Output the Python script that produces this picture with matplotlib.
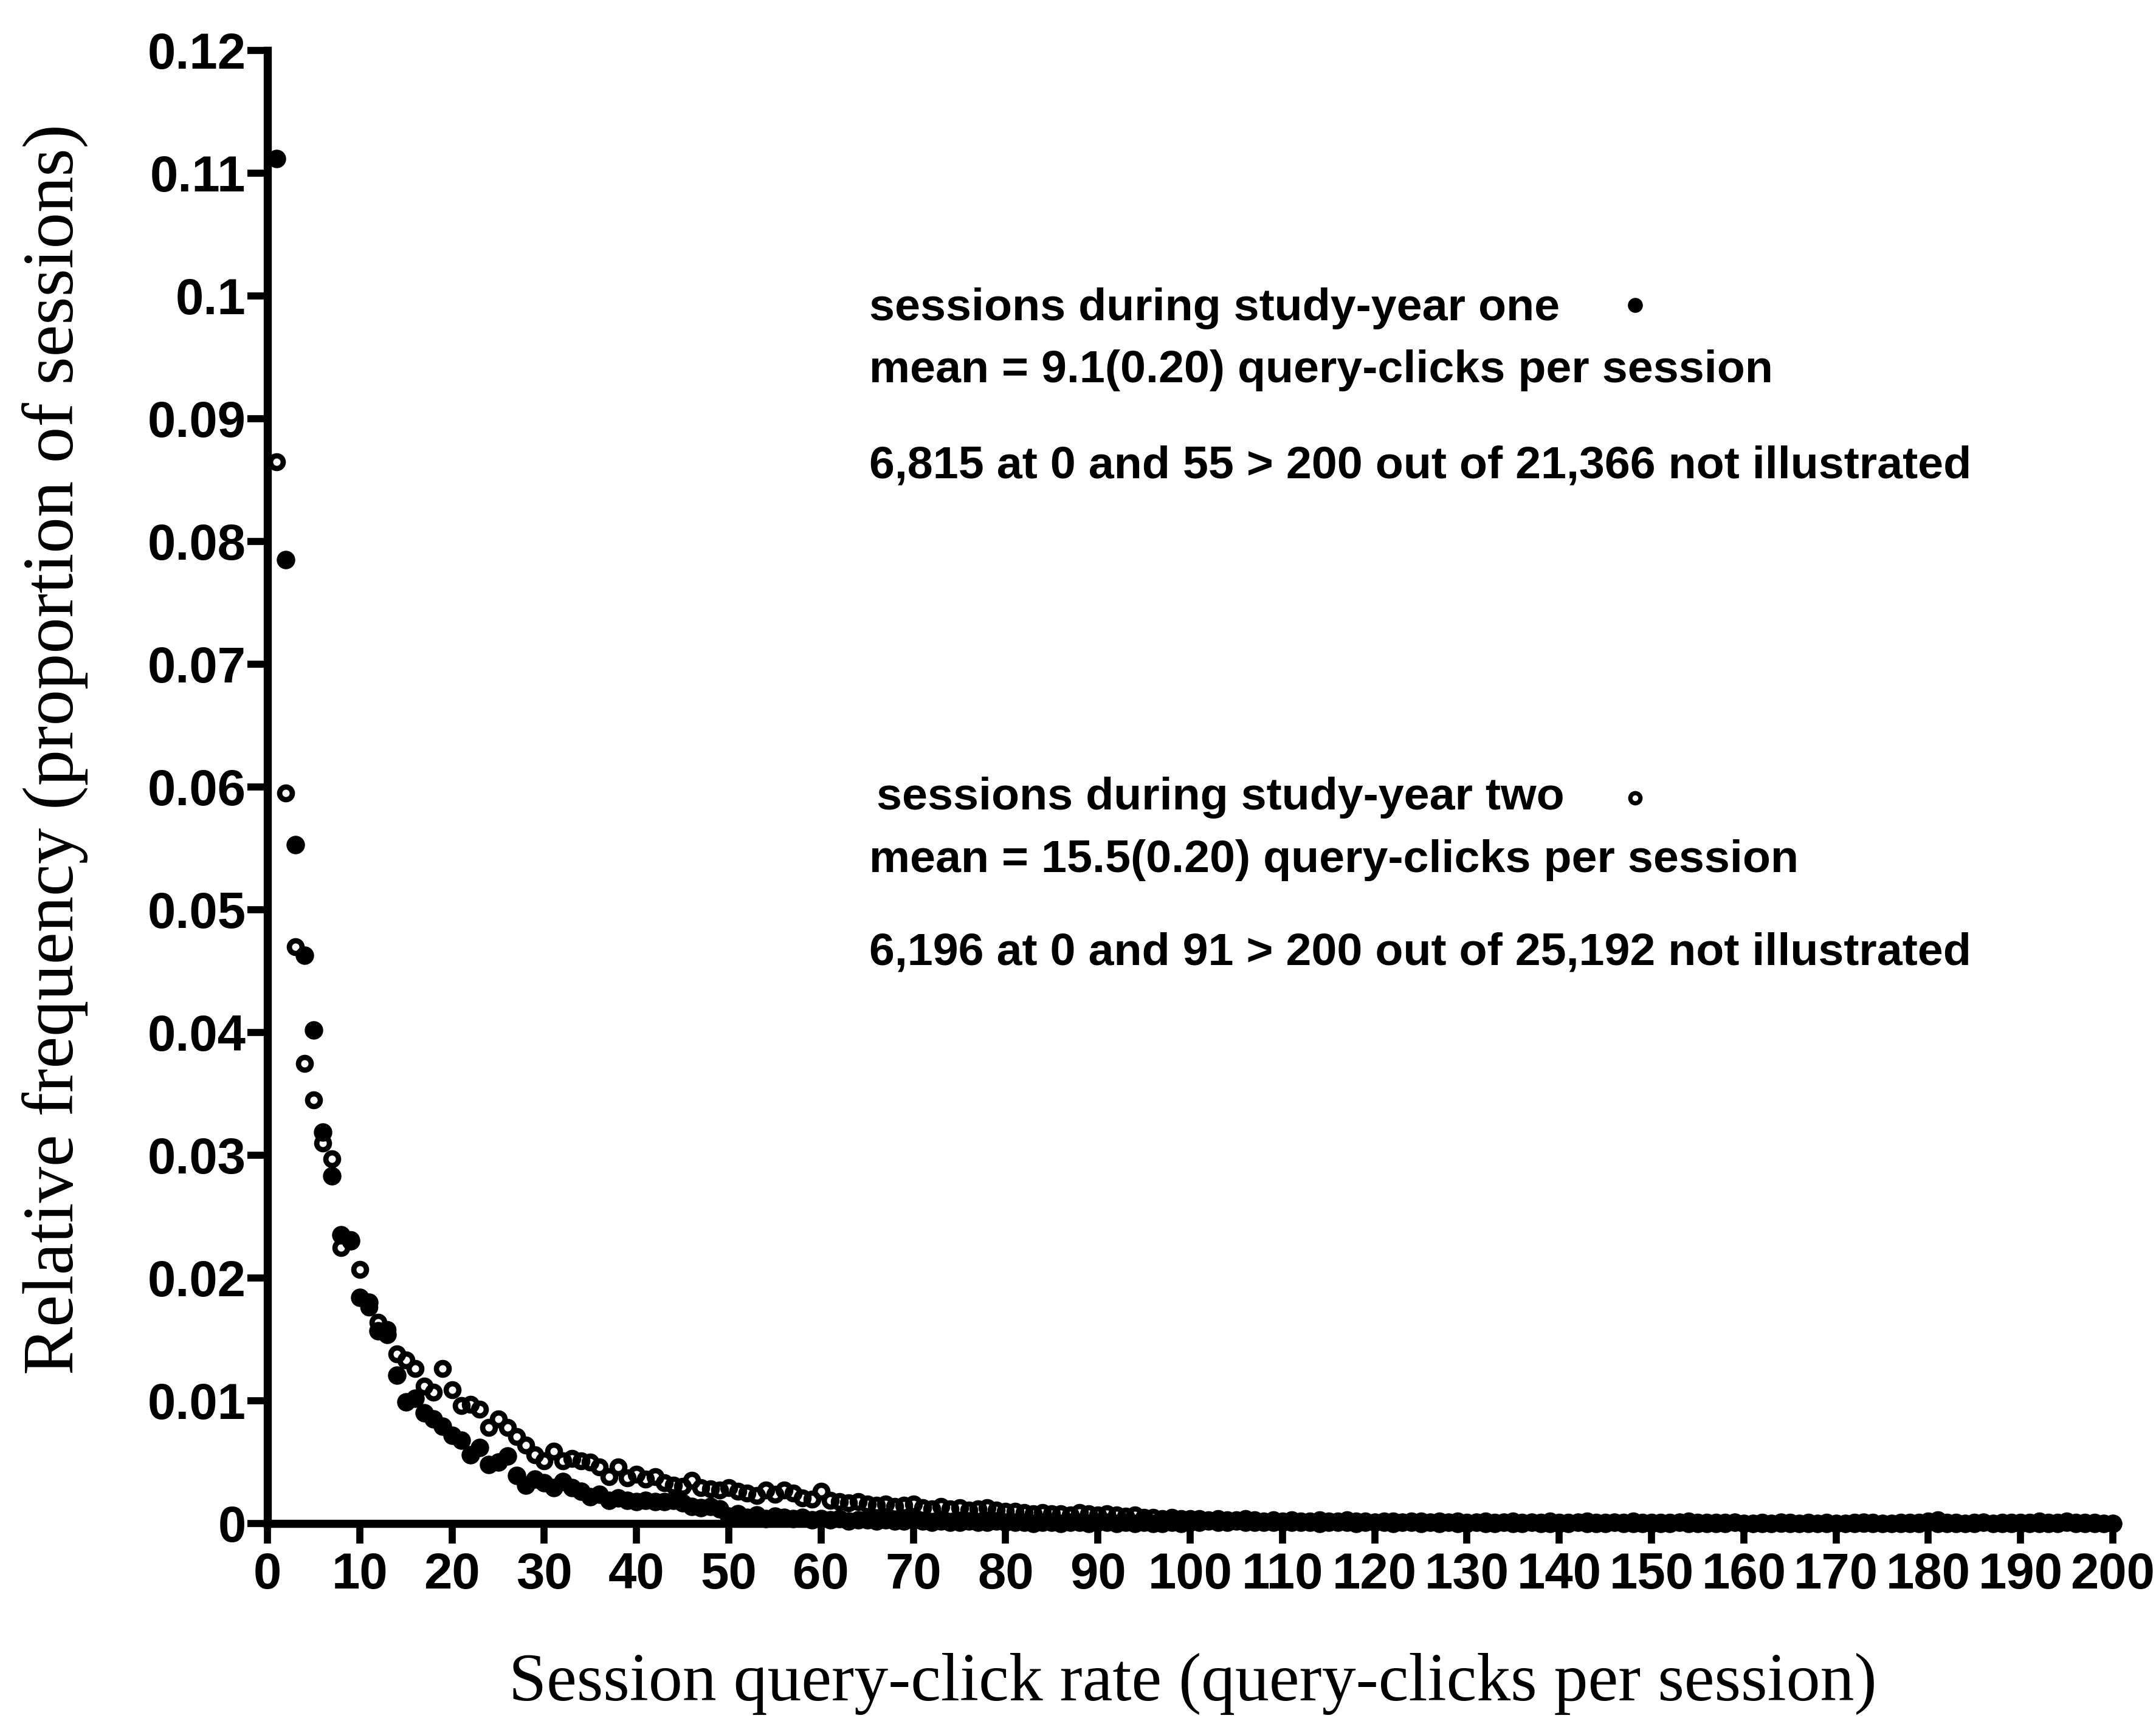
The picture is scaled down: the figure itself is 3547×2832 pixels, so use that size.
import matplotlib
matplotlib.use("Agg")
import matplotlib.pyplot as plt

# ---------------- data ----------------
query_clicks = list(range(1, 201))

year_one = [
    0.1112, 0.0785, 0.0553, 0.0463, 0.0402, 0.0319, 0.0283, 0.0235, 0.0230, 0.0184,
    0.0180, 0.0157, 0.0154, 0.0121, 0.0099, 0.0102, 0.0090, 0.0085, 0.0079, 0.0072,
    0.0068, 0.0056, 0.0062, 0.0048, 0.0050, 0.0055, 0.0039, 0.0031, 0.0036, 0.0033,
    0.0029, 0.0034, 0.0029, 0.0026, 0.0022, 0.0024, 0.0019, 0.0021, 0.0019, 0.0018,
    0.0019, 0.0018, 0.0018, 0.0019, 0.0017, 0.0014, 0.0013, 0.0014, 0.0012, 0.0006,
    0.0008, 0.0005, 0.0007, 0.0004, 0.0006, 0.0005, 0.0004, 0.0005, 0.0003, 0.0004,
    0.0003, 0.0004, 0.0002, 0.0003, 0.0003, 0.0002, 0.0003, 0.0002, 0.0002, 0.0003,
    0.0002, 0.0001, 0.0002, 0.0001, 0.0001, 0.0002, 0.0001, 0.0001, 0.0002, 0.0001,
    0.0001, 0.0001, 0.0000, 0.0001, 0.0001, 0.0000, 0.0001, 0.0001, 0.0000, 0.0001,
    0.0001, 0.0000, 0.0001, 0.0000, 0.0001, 0.0000, 0.0000, 0.0001, 0.0000, 0.0001,
    0.0001, 0.0002, 0.0001, 0.0001, 0.0002, 0.0001, 0.0001, 0.0001, 0.0001, 0.0001,
    0.0001, 0.0001, 0.0001, 0.0000, 0.0001, 0.0001, 0.0001, 0.0000, 0.0001, 0.0001,
    0.0001, 0.0000, 0.0001, 0.0001, 0.0000, 0.0001, 0.0000, 0.0001, 0.0000, 0.0000,
    0.0001, 0.0000, 0.0000, 0.0001, 0.0000, 0.0000, 0.0001, 0.0000, 0.0000, 0.0000,
    0.0000, 0.0001, 0.0000, 0.0000, 0.0000, 0.0001, 0.0000, 0.0000, 0.0000, 0.0000,
    0.0000, 0.0000, 0.0001, 0.0000, 0.0000, 0.0000, 0.0000, 0.0000, 0.0001, 0.0000,
    0.0000, 0.0000, 0.0000, 0.0001, 0.0000, 0.0000, 0.0000, 0.0000, 0.0000, 0.0000,
    0.0000, 0.0000, 0.0001, 0.0000, 0.0000, 0.0000, 0.0000, 0.0000, 0.0000, 0.0001,
    0.0000, 0.0000, 0.0000, 0.0000, 0.0000, 0.0001, 0.0000, 0.0000, 0.0000, 0.0000,
    0.0000, 0.0000, 0.0000, 0.0000, 0.0001, 0.0000, 0.0000, 0.0000, 0.0000, 0.0000,
]

year_two = [
    0.0865, 0.0595, 0.0470, 0.0375, 0.0345, 0.0310, 0.0297, 0.0225, 0.0231, 0.0207,
    0.0176, 0.0164, 0.0158, 0.0138, 0.0133, 0.0126, 0.0112, 0.0107, 0.0126, 0.0109,
    0.0096, 0.0097, 0.0093, 0.0078, 0.0085, 0.0078, 0.0071, 0.0064, 0.0056, 0.0051,
    0.0059, 0.0051, 0.0053, 0.0051, 0.0050, 0.0046, 0.0038, 0.0046, 0.0037, 0.0040,
    0.0036, 0.0038, 0.0033, 0.0031, 0.0030, 0.0035, 0.0029, 0.0028, 0.0027, 0.0029,
    0.0026, 0.0025, 0.0023, 0.0027, 0.0024, 0.0027, 0.0025, 0.0021, 0.0020, 0.0026,
    0.0019, 0.0018, 0.0017, 0.0018, 0.0016, 0.0015, 0.0016, 0.0014, 0.0015, 0.0016,
    0.0013, 0.0012, 0.0014, 0.0012, 0.0013, 0.0011, 0.0012, 0.0013, 0.0011, 0.0010,
    0.0010, 0.0009, 0.0008, 0.0009, 0.0008, 0.0008, 0.0007, 0.0009, 0.0008, 0.0007,
    0.0008, 0.0007, 0.0006, 0.0007, 0.0005, 0.0005, 0.0004, 0.0005, 0.0004, 0.0004,
    0.0004, 0.0003, 0.0004, 0.0003, 0.0003, 0.0004, 0.0003, 0.0002, 0.0003, 0.0002,
    0.0003, 0.0002, 0.0002, 0.0003, 0.0002, 0.0002, 0.0003, 0.0002, 0.0002, 0.0001,
    0.0002, 0.0002, 0.0001, 0.0002, 0.0002, 0.0001, 0.0002, 0.0001, 0.0002, 0.0001,
    0.0001, 0.0002, 0.0001, 0.0001, 0.0002, 0.0001, 0.0001, 0.0001, 0.0002, 0.0001,
    0.0001, 0.0001, 0.0002, 0.0001, 0.0001, 0.0001, 0.0001, 0.0002, 0.0001, 0.0001,
    0.0001, 0.0001, 0.0001, 0.0002, 0.0001, 0.0001, 0.0001, 0.0001, 0.0001, 0.0000,
    0.0000, 0.0001, 0.0000, 0.0000, 0.0001, 0.0000, 0.0001, 0.0000, 0.0001, 0.0000,
    0.0000, 0.0001, 0.0000, 0.0001, 0.0000, 0.0000, 0.0001, 0.0001, 0.0001, 0.0002,
    0.0003, 0.0001, 0.0001, 0.0000, 0.0001, 0.0001, 0.0000, 0.0001, 0.0001, 0.0001,
    0.0001, 0.0002, 0.0001, 0.0001, 0.0002, 0.0001, 0.0001, 0.0001, 0.0000, 0.0000,
]

x_ticks = list(range(0, 201, 10))
x_tick_labels = [str(v) for v in x_ticks]
y_ticks = [0, 0.01, 0.02, 0.03, 0.04, 0.05, 0.06, 0.07, 0.08, 0.09, 0.10, 0.11, 0.12]
y_tick_labels = ["0", "0.01", "0.02", "0.03", "0.04", "0.05", "0.06", "0.07",
                 "0.08", "0.09", "0.1", "0.11", "0.12"]

x_label = "Session query-click rate (query-clicks per session)"
y_label = "Relative frequency (proportion of sessions)"

year_one_lines = ["sessions during study-year one",
                  "mean = 9.1(0.20) query-clicks per session",
                  "6,815 at 0 and 55 > 200 out of 21,366 not illustrated"]
year_two_lines = ["sessions during study-year two",
                  "mean = 15.5(0.20) query-clicks per session",
                  "6,196 at 0 and 91 > 200 out of 25,192 not illustrated"]

# ---------------- figure ----------------
W, H, DPI = 3547, 2832, 300
fig = plt.figure(figsize=(W / DPI, H / DPI), dpi=DPI, facecolor="white")

ax_left, ax_right, ax_bottom, ax_top = 440, 3476, 2507, 83
ax = fig.add_axes([ax_left / W, 1 - ax_bottom / H,
                   (ax_right - ax_left) / W, (ax_bottom - ax_top) / H])
ax.set_xlim(0, 200)
ax.set_ylim(0, 0.12)

ax.plot(query_clicks, year_one, linestyle="none", marker="o", markersize=7.0,
        markerfacecolor="black", markeredgecolor="black", markeredgewidth=0.3,
        clip_on=False, zorder=3)
ax.plot(query_clicks, year_two, linestyle="none", marker="o", markersize=5.0,
        markerfacecolor="none", markeredgecolor="black", markeredgewidth=2.1,
        clip_on=False, zorder=4)

for s in ["top", "right"]:
    ax.spines[s].set_visible(False)
for s in ["left", "bottom"]:
    ax.spines[s].set_linewidth(3.2)
    ax.spines[s].set_capstyle("projecting")

ax.set_xticks(x_ticks)
ax.set_xticklabels(x_tick_labels)
ax.set_yticks(y_ticks)
ax.set_yticklabels(y_tick_labels)
ax.tick_params(axis="both", direction="out", length=8, width=2.8, colors="black")
ax.tick_params(axis="x", pad=3)
ax.tick_params(axis="y", pad=0.5)

sans = "Liberation Sans"
serif = "Liberation Serif"

for lab in ax.get_xticklabels() + ax.get_yticklabels():
    lab.set_fontfamily(sans)
    lab.set_fontweight("bold")
    lab.set_fontsize(20)


def px_to_x(px):
    return (px - ax_left) / (ax_right - ax_left) * 200


def px_to_y(py):
    return (ax_bottom - py) / (ax_bottom - ax_top) * 0.12


note_x = px_to_x(1430)
kw = dict(fontsize=19, family=sans, fontweight="bold", va="center", ha="left")
t1 = [
    ax.text(note_x, px_to_y(508), year_one_lines[0], **kw),
    ax.text(note_x, px_to_y(609), year_one_lines[1], **kw),
    ax.text(note_x, px_to_y(767), year_one_lines[2], **kw),
    ax.text(px_to_x(1442), px_to_y(1313), year_two_lines[0], **kw),
    ax.text(note_x, px_to_y(1416), year_two_lines[1], **kw),
    ax.text(note_x, px_to_y(1568), year_two_lines[2], **kw),
]

ax.plot([px_to_x(2690)], [px_to_y(502)], linestyle="none", marker="o", markersize=5.6,
        markerfacecolor="black", markeredgecolor="black", markeredgewidth=0.3, clip_on=False)
ax.plot([px_to_x(2690)], [px_to_y(1313)], linestyle="none", marker="o", markersize=4.0,
        markerfacecolor="none", markeredgecolor="black", markeredgewidth=1.7, clip_on=False)

xl = fig.text(1962 / W, 1 - 2771 / H, x_label, family=serif, fontsize=24, ha="center", va="center")
yl = fig.text(90 / W, 1 - 1233 / H, y_label, family=serif, fontsize=24, ha="center", va="center",
              rotation=90)

# fit font sizes to the widths measured on the reference
fig.canvas.draw()
r = fig.canvas.get_renderer()
w = xl.get_window_extent(r).width
xl.set_fontsize(xl.get_fontsize() * 2251 / w)
h = yl.get_window_extent(r).height
yl.set_fontsize(yl.get_fontsize() * 2058 / h)
w = t1[2].get_window_extent(r).width
fs = 19 * 1812 / w
for t in t1:
    t.set_fontsize(fs)

fig.savefig("out.png", dpi=DPI, facecolor="white")
